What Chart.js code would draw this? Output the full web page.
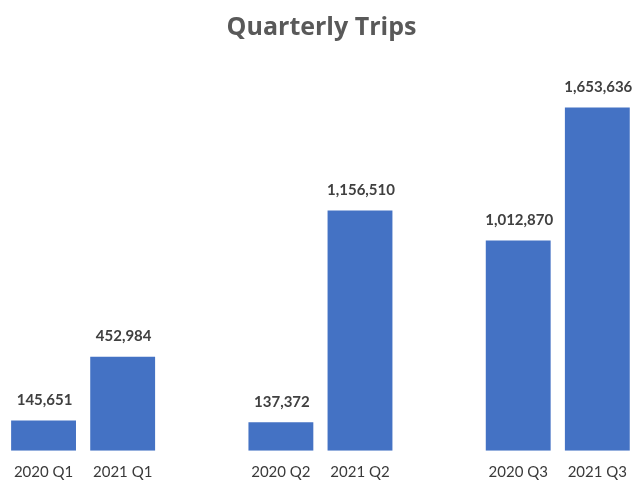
<!DOCTYPE html>
<html>
<head>
<meta charset="utf-8">
<script src="https://cdn.jsdelivr.net/npm/chart.js@4.4.0/dist/chart.umd.min.js"></script>
<style>
html,body{margin:0;padding:0;background:#fff;}
#wrap{width:639px;height:482px;position:relative;}
</style>
</head>
<body>
<div id="wrap"><canvas id="c" width="639" height="482"></canvas></div>
<script>
const categories = ['2020 Q1', '2021 Q1', '', '2020 Q2', '2021 Q2', '', '2020 Q3', '2021 Q3'];
const trips = [145651, 452984, null, 137372, 1156510, null, 1012870, 1653636];
const chartTitle = 'Quarterly Trips';

const valueLabels = {
  id: 'valueLabels',
  afterDatasetsDraw(chart) {
    const ctx = chart.ctx;
    const meta = chart.getDatasetMeta(0);
    ctx.save();
    ctx.font = 'bold 15px Lato';
    ctx.fillStyle = '#404040';
    ctx.textAlign = 'center';
    ctx.textBaseline = 'middle';
    meta.data.forEach((bar, i) => {
      const v = trips[i];
      if (v === null || v === undefined) return;
      ctx.fillText(v.toLocaleString('en-US'), bar.x + 1, bar.y - 20);
    });
    ctx.restore();
  }
};

new Chart(document.getElementById('c'), {
  type: 'bar',
  data: {
    labels: categories,
    datasets: [{
      data: trips,
      backgroundColor: '#4472C4',
      borderWidth: 0,
      categoryPercentage: 1,
      barPercentage: 0.82
    }]
  },
  options: {
    responsive: false,
    animation: false,
    layout: { padding: { left: 4, right: 0, top: 0, bottom: 0 } },
    plugins: {
      legend: { display: false },
      tooltip: { enabled: false },
      title: {
        display: true,
        text: chartTitle,
        color: '#595959',
        font: { family: 'Open Sans', size: 25, weight: '700', lineHeight: 1.2 },
        padding: { top: 13, bottom: 7 }
      }
    },
    scales: {
      x: {
        grid: { display: false, drawTicks: false },
        border: { display: false },
        ticks: { color: '#3a3a3a', font: { family: 'Lato', size: 15 }, padding: 12, maxRotation: 0, autoSkip: false },
        afterFit: s => { s.height = 31.3; }
      },
      y: {
        display: false,
        min: 0,
        max: 1930000
      }
    }
  },
  plugins: [valueLabels]
});
</script>
</body>
</html>
